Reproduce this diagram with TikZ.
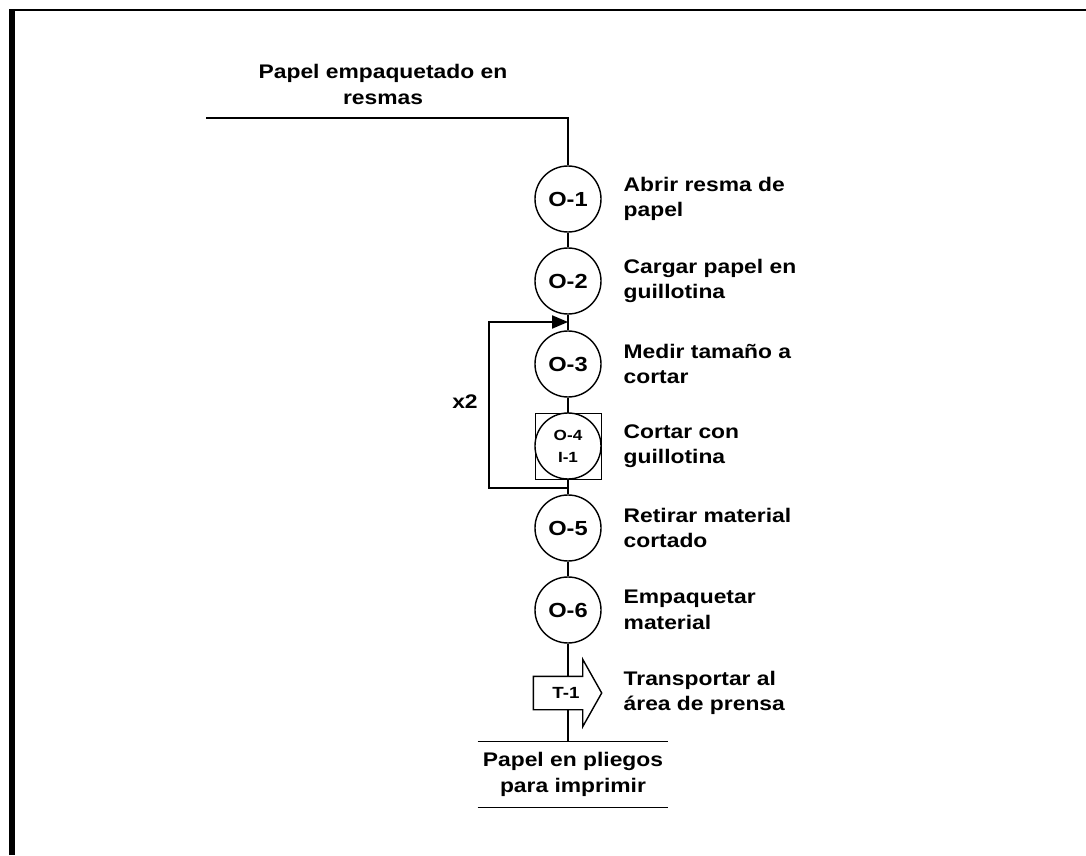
\documentclass[tikz,border=0pt]{standalone}
\usepackage{fontspec}
\setmainfont{Liberation Sans}[FakeStretch=1.16]
\usetikzlibrary{arrows.meta}

\begin{document}
\begin{tikzpicture}[
    line width=1pt,
    oper/.style={draw, circle, minimum size=1.65cm, inner sep=0pt, fill=white,
        font=\bfseries\fontsize{14.5}{18}\selectfont},
    chica/.style={font=\bfseries\fontsize{10.5}{15.6}\selectfont, align=center},
    desc/.style={anchor=west, align=left, inner xsep=0pt, font=\bfseries\fontsize{14}{18.1}\selectfont},
    extremo/.style={align=center, font=\bfseries\fontsize{14}{18.1}\selectfont}
]
    \useasboundingbox (0,0) rectangle (27.15,21.375);

    % Marco de la hoja
    \draw[line width=0.15cm] (0.3,0) -- (0.3,21.15);
    \draw[line width=0.05cm] (0.225,21.125) -- (27.15,21.125);

    % Entrada de material
    \node[extremo] (ini) at (9.575,19.26) {Papel empaquetado en\\resmas};
    \coordinate (ent) at (5.15,18.425);

    % Operaciones
    \node[oper] (o1) at (14.2,16.4) {O-1};
    \node[desc] (d1) at (15.575,16.4) {Abrir resma de\\papel};
    \node[oper] (o2) at (14.2,14.35) {O-2};
    \node[desc] (d2) at (15.575,14.35) {Cargar papel en\\guillotina};
    \node[oper] (o3) at (14.2,12.275) {O-3};
    \node[desc] (d3) at (15.575,12.275) {Medir tamaño a\\cortar};
    \node[draw, minimum size=1.65cm, line width=0.7pt] (o4box) at (14.2,10.225) {};
    \node[oper, chica] (o4) at (o4box) {O-4\\I-1};
    \node[desc] (d4) at (15.575,10.225) {Cortar con\\guillotina};
    \node[oper] (o5) at (14.2,8.175) {O-5};
    \node[desc] (d5) at (15.575,8.175) {Retirar material\\cortado};
    \node[oper] (o6) at (14.2,6.125) {O-6};
    \node[desc] (d6) at (15.575,6.125) {Empaquetar\\material};

    % Transporte
    \node[minimum width=1.2cm, minimum height=0.8cm, inner sep=0pt] (t1) at (13.95,4.05) {};
    \draw[fill=white] (t1.north west) -- (t1.north east) -- ([yshift=0.425cm]t1.north east)
        -- ([xshift=0.475cm]t1.east) -- ([yshift=-0.425cm]t1.south east)
        -- (t1.south east) -- (t1.south west) -- cycle;
    \node[chica, font=\bfseries\fontsize{11.5}{14}\selectfont] (t1txt) at ([xshift=0.2cm]t1.center) {T-1};
    \node[desc] (d7) at (15.575,4.05) {Transportar al\\área de prensa};

    % Salida
    \node[extremo, minimum width=4.7cm, minimum height=1.625cm] (fin) at (14.325,2.0125)
        {Papel en pliegos\\para imprimir};
    \draw (fin.north west) -- (fin.north east);
    \draw (fin.south west) -- (fin.south east);

    % Conexiones
    \draw (ent) -| (o1);
    \draw (o1) -- (o2);
    \draw (o2) -- (o3);
    \draw (o3) -- (o4box);
    \draw (o4box) -- (o5);
    \draw (o5) -- (o6);
    \draw (o6) -- (o6 |- t1.north);
    \draw (o6 |- t1.south) -- (o6 |- fin.north);

    % Repeticion del corte
    \coordinate (lazoA) at (14.2,9.175);
    \coordinate (lazoB) at (14.2,13.325);
    \draw[-{Triangle[length=0.4cm,width=0.33cm]}] (lazoA) -- ++(-1.975,0) |- (lazoB);
    \node[extremo] (rep) at (11.625,11.325) {x2};
\end{tikzpicture}
\end{document}
